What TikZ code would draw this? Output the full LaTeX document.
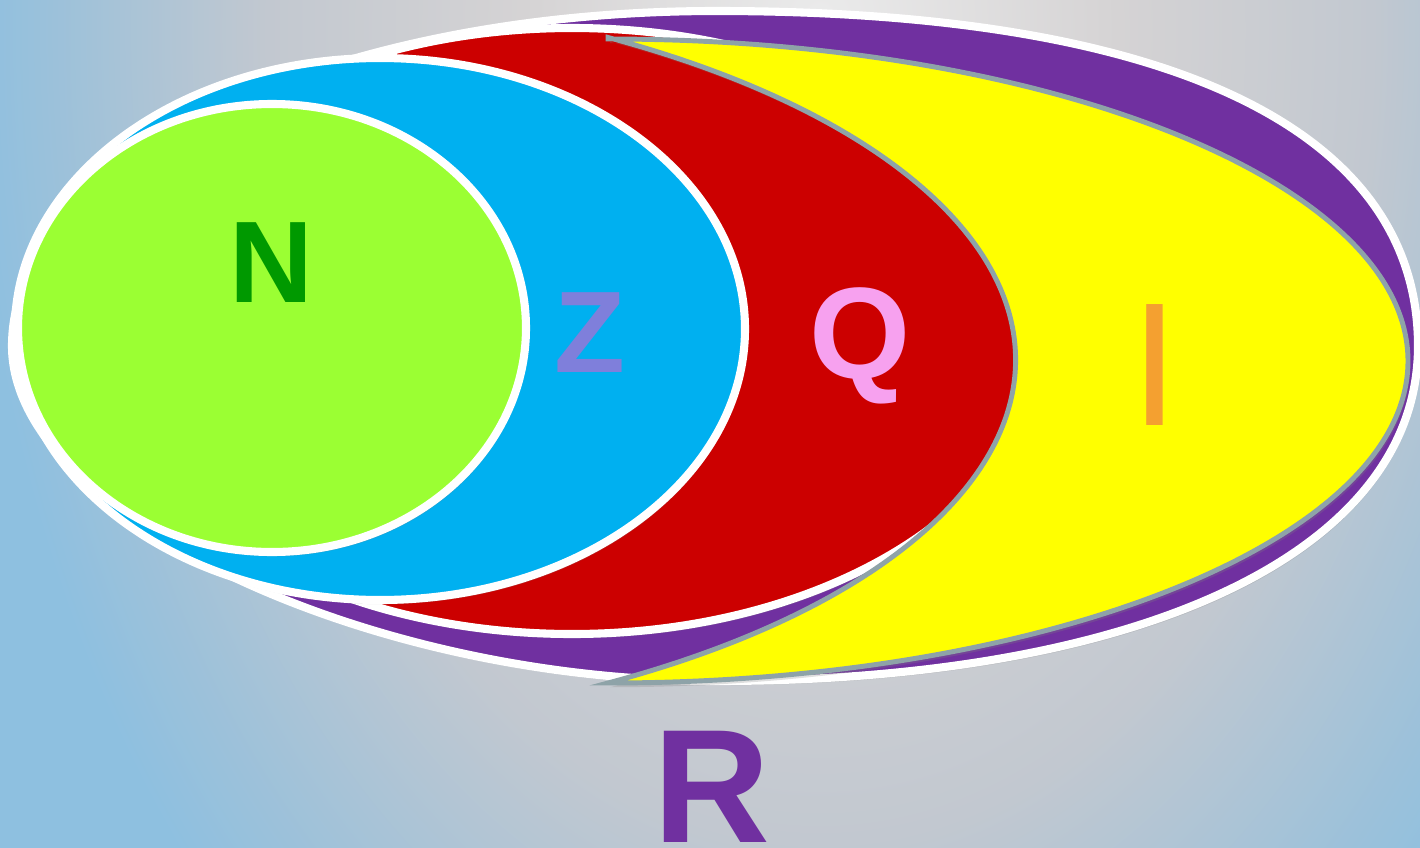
\documentclass[tikz,border=0pt]{standalone}
\usepackage{fontspec}
\setmainfont{Liberation Sans}
\usetikzlibrary{shadows}
\definecolor{setR}{HTML}{7030A0}
\definecolor{setI}{HTML}{FFFF00}
\definecolor{setQ}{HTML}{CC0000}
\definecolor{setZ}{HTML}{00B0F0}
\definecolor{setN}{HTML}{9BFF33}
\definecolor{edgegray}{HTML}{8EA3A8}
\definecolor{txtN}{HTML}{009900}
\definecolor{txtZ}{HTML}{7F7FDB}
\definecolor{txtQ}{HTML}{F7A1EF}
\definecolor{txtI}{HTML}{F4A030}
\definecolor{bgA}{HTML}{EBEBEB}
\definecolor{bgB}{HTML}{D5D3D4}
\definecolor{bgC}{HTML}{C2C8D0}
\definecolor{bgD}{HTML}{9CC1DA}
\definecolor{bgE}{HTML}{8EC0E0}
\pgfdeclareradialshading{bgglow}{\pgfpoint{0bp}{0bp}}{color(0bp)=(bgA); color(8.75bp)=(bgB); color(16.25bp)=(bgC); color(22.5bp)=(bgD); color(25bp)=(bgE); color(50bp)=(bgE)}

\begin{document}
\begin{tikzpicture}[x=0.01cm,y=-0.01cm,
   setfill/.style={draw=white,line width=2.3pt,drop shadow={shadow xshift=0.6pt,shadow yshift=-1.2pt,opacity=.25}},
   setlabel/.style={anchor=base,inner sep=0pt,text depth=0pt,font=\bfseries\fontsize{33}{33}\selectfont}]
  \useasboundingbox (0,0) rectangle (1420,848);
  \begin{scope}
    \clip (0,0) rectangle (1420,848);
    \shade[shading=bgglow] (-30,-1220) rectangle (1670,1280);
  \end{scope}
  % nested sets, outermost first
  \path[setfill,fill=setR] (12,346) arc (180:270:704 and 335)
    .. controls (1185,11) and (1418,137) .. (1418,346)
    .. controls (1418,553) and (1140,681) .. (716,681)
    .. controls (364,681) and (12,514) .. (12,346) -- cycle;
  \path[setfill,fill=setQ] (572,331) ellipse (472 and 303);
  \path[setfill,draw=edgegray,line width=1.4pt,fill=setI]
    (608,39) arc (-90:90:800 and 322) arc (59.4:-59.4:830 and 375) -- cycle;
  \path[setfill,fill=setZ] (380,329) ellipse (365 and 271);
  \path[setfill,fill=setN] (272,328) ellipse (254 and 224);
  \node[setlabel,text=txtN] (lblN) at (271,302) {N};
  \node[setlabel,text=txtZ] (lblZ) at (590,372) {Z};
  \node[setlabel,text=txtQ,font=\bfseries\fontsize{37}{37}\selectfont] (lblQ) at (860,378) {Q};
  \node[setlabel,text=txtI,font=\fontsize{50}{50}\selectfont] (lblI) at (1155,425) {I};
  \node[setlabel,text=setR,font=\bfseries\fontsize{46}{46}\selectfont] (lblR) at (712,842) {R};
\end{tikzpicture}
\end{document}
